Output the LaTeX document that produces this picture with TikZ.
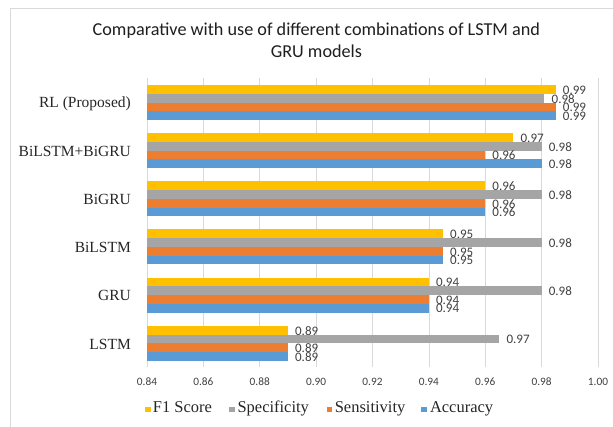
\documentclass[tikz,border=0pt]{standalone}
\usepackage{fontspec}
\setmainfont{Liberation Serif}
\newfontfamily\calib{Carlito}
\newfontfamily\timesf{Liberation Serif}
\definecolor{f1col}{HTML}{FFC000}
\definecolor{spcol}{HTML}{A5A5A5}
\definecolor{secol}{HTML}{ED7D31}
\definecolor{accol}{HTML}{5B9BD5}
\definecolor{gridcol}{HTML}{D9D9D9}
\definecolor{txtcol}{HTML}{404040}
\definecolor{framecol}{HTML}{D9D9D9}
\tikzset{
  gridline/.style={draw=gridcol, line width=0.75pt},
  titletext/.style={font=\calib\fontsize{18.2}{22}\selectfont, text=black!88, inner sep=0pt, anchor=base},
  ticklabel/.style={font=\calib\fontsize{11.3}{13}\selectfont, text=txtcol, inner sep=0pt},
  barlabel/.style={font=\calib\fontsize{13}{15}\selectfont, text=txtcol, inner sep=0pt, anchor=west},
  catlabel/.style={font=\timesf\fontsize{15.5}{18}\selectfont, text=black!85, inner sep=0pt, anchor=east},
  legtext/.style={font=\timesf\fontsize{16.5}{19}\selectfont, text=black!85, inner sep=0pt, anchor=base west},
  legkey/.style={minimum size=5.8pt, inner sep=0pt, draw=none},
}
\begin{document}
\begin{tikzpicture}[x=1pt,y=-1pt]
\useasboundingbox (0,0) rectangle (613,426);
\fill[white] (0,0) rectangle (613,426);
% chart frame
\draw[framecol, line width=0.8pt] (10.5,430) -- (10.5,8) -- (620,8);
% title
\node[titletext] (title1) at (316.4,35.7) {Comparative with use of different combinations of LSTM and};
\node[titletext] (title2) at (316.4,57.7) {GRU models};
% vertical gridlines and value axis labels
\foreach \k/\t in {0/0.84,1/0.86,2/0.88,3/0.90,4/0.92,5/0.94,6/0.96,7/0.98,8/1.00}{
  \pgfmathsetmacro\gx{147+56.375*\k}
  \draw[gridline] (\gx,78.3) -- (\gx,367.3);
  \node[ticklabel] (tick-\k) at (\gx,381.7) {\t};
}
% bars, value labels and category labels
\foreach \r/\name/\a/\b/\c/\d/\la/\lb/\lc/\ld in {
  0/RL (Proposed)/0.985/0.981/0.985/0.985/0.99/0.98/0.99/0.99,
  1/BiLSTM+BiGRU/0.97/0.98/0.96/0.98/0.97/0.98/0.96/0.98,
  2/BiGRU/0.96/0.98/0.96/0.96/0.96/0.98/0.96/0.96,
  3/BiLSTM/0.945/0.98/0.945/0.945/0.95/0.98/0.95/0.95,
  4/GRU/0.94/0.98/0.94/0.94/0.94/0.98/0.94/0.94,
  5/LSTM/0.89/0.965/0.89/0.89/0.89/0.97/0.89/0.89}{
  \pgfmathsetmacro\gy{85+48.15*\r}
  \node[catlabel] (cat-\r) at (131,\gy+18.3) {\name};
  \foreach \j/\v/\lab/\col in {0/\a/\la/f1col,1/\b/\lb/spcol,2/\c/\lc/secol,3/\d/\ld/accol}{
    \pgfmathsetmacro\xe{147+(\v-0.84)*2818.75}
    \pgfmathsetmacro\yt{\gy+8.75*\j}
    \fill[\col] (147,\yt) rectangle (\xe,\yt+8.75);
    \node[barlabel] (val-\r-\j) at (\xe+7,\yt+4.9) {\lab};
  }
}
% legend
\node[legkey, fill=f1col] (key-f1) at (147.9,409.5) {};
\node[legtext] (leg-f1) at (152.7,412.3) {F1 Score};
\node[legkey, fill=spcol] (key-sp) at (232.3,409.5) {};
\node[legtext] (leg-sp) at (237.3,412.3) {Specificity};
\node[legkey, fill=secol] (key-se) at (329.4,409.5) {};
\node[legtext] (leg-se) at (334.6,412.3) {Sensitivity};
\node[legkey, fill=accol] (key-ac) at (424.3,409.5) {};
\node[legtext] (leg-ac) at (429.8,412.3) {Accuracy};
\end{tikzpicture}
\end{document}
